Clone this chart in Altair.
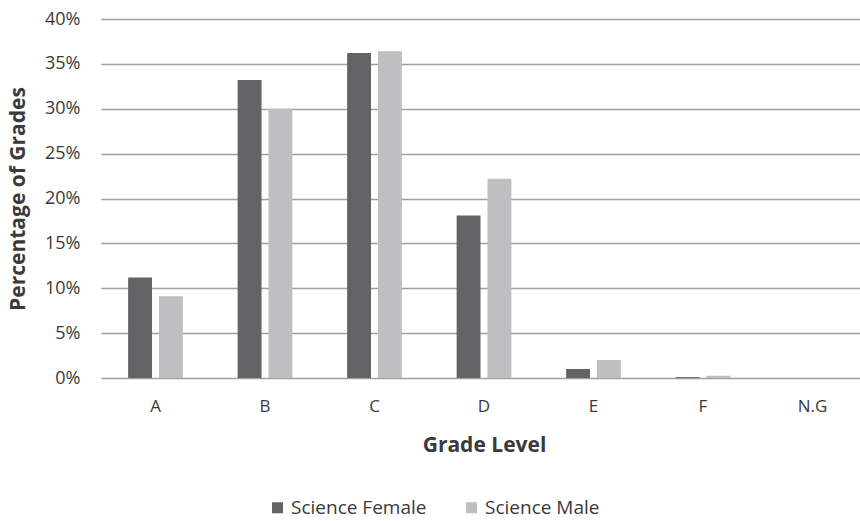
import altair as alt
import pandas as pd

grades = ["A", "B", "C", "D", "E", "F", "N.G"]
female = [11.2, 33.2, 36.2, 18.1, 1.0, 0.1, 0.0]
male = [9.1, 30.0, 36.4, 22.2, 2.0, 0.25, 0.0]
series = ["Science Female", "Science Male"]

rows = []
for g, f, m in zip(grades, female, male):
    rows.append({"grade": g, "series": series[0], "pct": f})
    rows.append({"grade": g, "series": series[1], "pct": m})
df = pd.DataFrame(rows)

FONT = "Open Sans"
TEXT = "#3a3a3a"

bars = alt.Chart(df).mark_bar().encode(
    x=alt.X(
        "grade:N",
        sort=grades,
        scale=alt.Scale(range=[0.75, 767.25], paddingInner=0.5, paddingOuter=0.25),
        axis=alt.Axis(
            title="Grade Level",
            labelAngle=0,
            labelFont=FONT,
            labelFontSize=17,
            labelColor=TEXT,
            labelPadding=20,
            ticks=False,
            domain=False,
            titleFont=FONT,
            titleFontSize=21,
            titleFontWeight="bold",
            titleColor=TEXT,
            titlePadding=20,
        ),
    ),
    xOffset=alt.XOffset(
        "series:N", sort=series, scale=alt.Scale(paddingInner=0.226, paddingOuter=0)
    ),
    y=alt.Y(
        "pct:Q",
        scale=alt.Scale(domain=[0, 40], nice=False),
        axis=alt.Axis(
            title="Percentage of Grades",
            values=[0, 5, 10, 15, 20, 25, 30, 35, 40],
            labelExpr="datum.value + '%'",
            labelFont=FONT,
            labelFontSize=18,
            labelColor=TEXT,
            labelPadding=20,
            ticks=False,
            domain=False,
            grid=True,
            gridColor="#a0a0a0",
            gridWidth=1.6,
            titleFont=FONT,
            titleFontSize=21,
            titleFontWeight="bold",
            titleColor=TEXT,
            titlePadding=16,
        ),
    ),
    color=alt.Color(
        "series:N",
        sort=series,
        scale=alt.Scale(domain=series, range=["#636366", "#bfbfc1"]),
        legend=alt.Legend(
            title=None,
            orient="none",
            direction="horizontal",
            legendX=168,
            legendY=479,
            symbolType="square",
            symbolSize=121,
            symbolStrokeWidth=0,
            symbolOpacity=1,
            labelFont=FONT,
            labelFontSize=19,
            labelColor=TEXT,
            labelOffset=4,
            columnPadding=35,
        ),
    ),
)

chart = bars.properties(
    width=760,
    height=359,
    autosize=alt.AutoSizeParams(type="none"),
    padding={"left": 100, "top": 19, "right": 0, "bottom": 143},
).configure(background="white").configure_view(stroke=None)

chart.save("out.html", embed_options={"renderer": "svg", "actions": False})
